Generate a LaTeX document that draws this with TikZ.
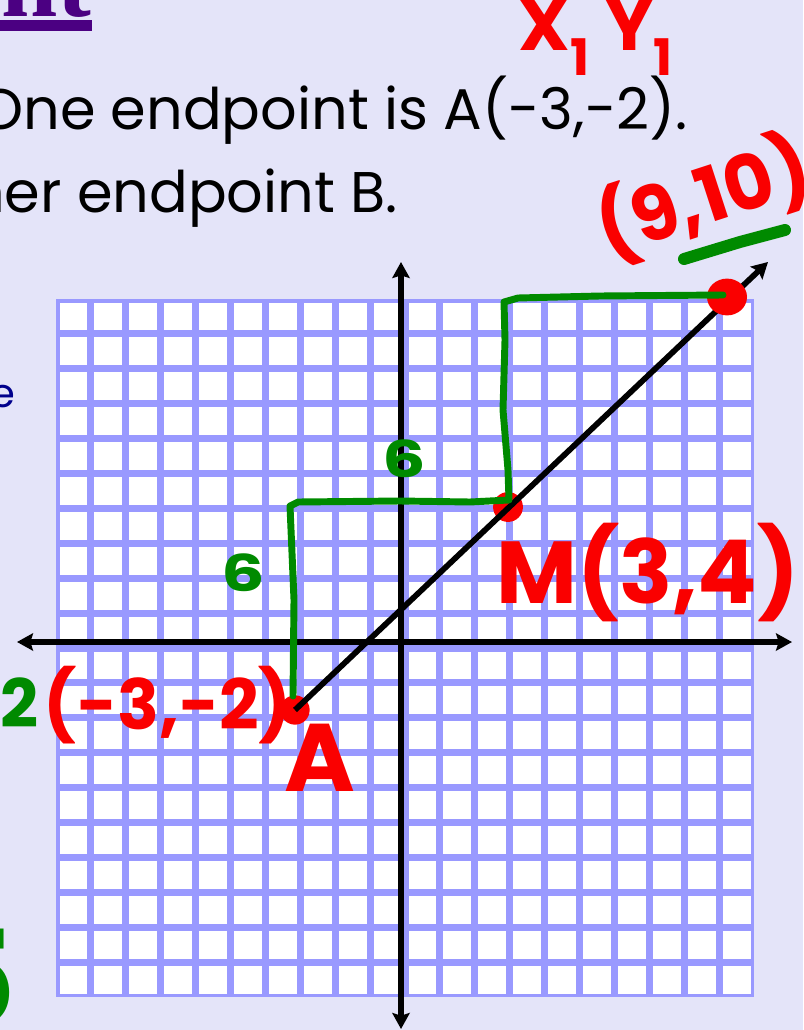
\documentclass[tikz,border=0pt]{standalone}
\usepackage{fontspec}
\setmainfont{Poppins}
\newfontfamily\hand{Poppins}
\newfontfamily\titlefont{Liberation Serif}
\usetikzlibrary{arrows.meta}
\definecolor{bgc}{RGB}{228,228,249}
\definecolor{gridc}{RGB}{153,153,255}
\definecolor{penred}{RGB}{250,0,0}
\definecolor{pengreen}{RGB}{0,138,0}
\definecolor{titlec}{RGB}{75,0,130}
\definecolor{navyc}{RGB}{0,0,140}
\begin{document}
\begin{tikzpicture}[x=0.75pt,y=-0.75pt,
  axisline/.style={line width=4.3pt,{Stealth[length=12pt,width=13pt,inset=2pt]}-{Stealth[length=12pt,width=13pt,inset=2pt]}},
  segline/.style={line width=4.3pt,-{Stealth[length=12pt,width=13pt,inset=2pt]}},
  redpen/.style={text=penred,font=\hand\bfseries,inner sep=0pt},
  greenpen/.style={text=pengreen,font=\hand\bfseries,inner sep=0pt},
  greenline/.style={draw=pengreen,line width=5.2pt,line cap=round,line join=round},
  typed/.style={text=black,inner sep=0pt,anchor=base east}]
\useasboundingbox (0,0) rectangle (803,1030);
\clip (0,0) rectangle (803,1030);
\fill[bgc] (0,0) rectangle (803,1030);
% grid
\fill[gridc] (56,299) rectangle (754,997);
\foreach \i in {0,...,19}{\foreach \j in {0,...,19}{
  \fill[white] ({56+34.9*\i+3.5},{299+34.9*\j+3.5}) rectangle ++(27.9,27.9);}}
% coordinates
\coordinate (xl) at (17,642);
\coordinate (xr) at (792,642);
\coordinate (yt) at (401,262);
\coordinate (yb) at (401,1029);
\coordinate (A) at (295,710);
\coordinate (M) at (508,507);
\coordinate (B) at (727,297);
\coordinate (tip) at (768,262);
% axes
\draw[axisline] (xl) -- (xr);
\draw[axisline] (yt) -- (yb);
% dots under the line
\fill[penred] (A) circle[radius=11pt];
\fill[penred] (M) circle[radius=11.2pt];
% segment
\draw[segline] (A) -- (tip);
\fill[penred] (B) ellipse[x radius=15pt,y radius=13.8pt];
% green steps
\draw[greenline] (293,696) -- (294,600) -- (290,506) -- (298,502) -- (400,501) -- (470,502) -- (509,500)
  -- (508,470) -- (503,410) -- (505,340) -- (504,302) -- (518,298) -- (600,296) -- (723,295);
\node[greenpen,font=\hand\bfseries\fontsize{38}{38}\selectfont,xscale=1.35] (six1) at (404,459) {6};
\node[greenpen,font=\hand\bfseries\fontsize{38}{38}\selectfont,xscale=1.35] (six2) at (243,573) {6};
\draw[draw=pengreen,line width=9pt,line cap=round] (684,259) -- (740,242) -- (785,230);
% handwriting
\node[redpen,font=\hand\bfseries\fontsize{54}{54}\selectfont] (xy) at (596,38) {X\textsubscript{1} Y\textsubscript{1}};
\node[redpen,font=\hand\bfseries\fontsize{57}{57}\selectfont,rotate=18] (lblB) at (703,198) {(9,10)};
\node[redpen,font=\hand\bfseries\fontsize{66}{66}\selectfont] (lblM) at (648,573) {M(3,4)};
\node[redpen,font=\hand\bfseries\fontsize{52}{52}\selectfont] (lblA) at (168,705) {(-3,-2)};
\node[redpen,font=\hand\bfseries\fontsize{72}{72}\selectfont] (nameA) at (320,758) {A};
% left margin fragments
\node[greenpen,font=\hand\bfseries\fontsize{50}{50}\selectfont] (g2) at (20,703) {2};
\node[greenpen,font=\hand\bfseries\fontsize{100}{100}\selectfont,anchor=east] (g5) at (16,978) {5};
\node[text=navyc,inner sep=0pt,anchor=base east,font=\fontsize{30}{30}\selectfont] (te) at (16,407) {e};
% typed text
\node[typed,font=\fontsize{43}{50}\selectfont] (t1) at (688,130) {One endpoint is A(-3,-2).};
\node[typed,font=\fontsize{43}{50}\selectfont] (t2) at (398,213) {other endpoint B.};
\node[text=titlec,inner sep=0pt,anchor=base east,font=\titlefont\bfseries\fontsize{76}{76}\selectfont] (ttl) at (92,17) {nt};
\fill[titlec] (0,20) rectangle (92,31);
\end{tikzpicture}
\end{document}
